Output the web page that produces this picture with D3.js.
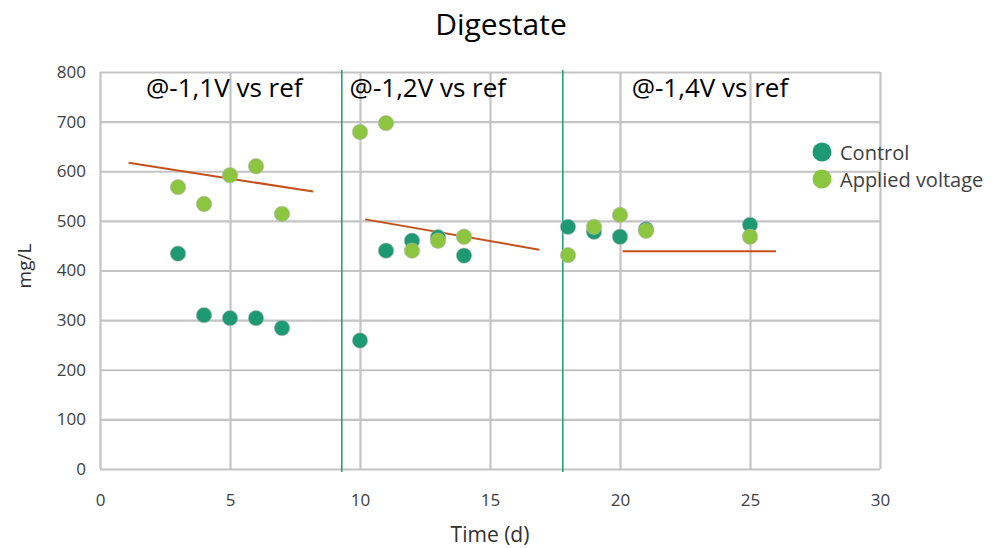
<!DOCTYPE html>
<meta charset="utf-8">
<style>
body {
	margin: 0;
	background-color: white;
}
text {
	font-family: "Open Sans", sans-serif;
}
.grid line {
	stroke: #c4c4c4;
	stroke-width: 2.2px;
}
.grid path {
	display: none;
}
.tick text {
	fill: #404040;
	font-size: 17px;
}
</style>
<html>
	<head>
		<title>Digestate</title>
		<script src="https://cdn.jsdelivr.net/npm/d3@7"></script>
	</head>
	<body>
		<svg id="svgchart"></svg>
<script>
'use strict'

// data
const controlDays   = [3, 4, 5, 6, 7, 10, 11, 12, 13, 14, 18, 19, 20, 21, 25]
const controlValues = [434, 310, 304, 304, 284, 259, 440, 460, 467, 430, 488, 478, 468, 483, 492]
const appliedDays   = [3, 4, 5, 6, 7, 10, 11, 12, 13, 14, 18, 19, 20, 21, 25]
const appliedValues = [568, 534, 592, 610, 514, 679, 697, 440, 460, 468, 431, 488, 512, 480, 468]

// trend segments per phase: [x1, y1, x2, y2]
const trendX1 = [1.1, 10.2, 20.1]
const trendY1 = [617, 503, 439]
const trendX2 = [8.2, 16.9, 26.0]
const trendY2 = [559, 442, 439]

// phase separators and labels
const phaseLines  = [9.3, 17.8]
const phaseLabels = ["@-1,1V vs ref", "@-1,2V vs ref", "@-1,4V vs ref"]
const phaseLabelX = [1.77, 9.6, 20.45]

const xTicks = [0, 5, 10, 15, 20, 25, 30]
const yTicks = [0, 100, 200, 300, 400, 500, 600, 700, 800]

const chartWidth  = 995,
      chartHeight = 548,
      plotLeft = 100, plotRight = 880, plotTop = 72, plotBottom = 469

const svg = d3.select("#svgchart")
	.attr("width", chartWidth)
	.attr("height", chartHeight)

const x = d3.scaleLinear().domain([0, 30]).range([plotLeft, plotRight])
const y = d3.scaleLinear().domain([0, 800]).range([plotBottom, plotTop])

// gridlines
svg.append("g")
	.attr("class", "grid")
	.attr("transform", "translate(0," + plotBottom + ")")
	.call(d3.axisBottom(x).tickValues(xTicks).tickSize(-(plotBottom - plotTop)).tickFormat(""))
svg.append("g")
	.attr("class", "grid")
	.attr("transform", "translate(" + plotLeft + ",0)")
	.call(d3.axisLeft(y).tickValues(yTicks).tickSize(-(plotRight - plotLeft)).tickFormat(""))

// tick labels
svg.append("g")
	.attr("transform", "translate(0," + (plotBottom + 22) + ")")
	.call(d3.axisBottom(x).tickValues(xTicks).tickSize(0))
	.call(g => g.select(".domain").remove())
svg.append("g")
	.attr("transform", "translate(" + (plotLeft - 11) + ",0)")
	.call(d3.axisLeft(y).tickValues(yTicks).tickSize(0))
	.call(g => g.select(".domain").remove())

// phase separators
svg.append("g")
	.selectAll("line")
	.data(phaseLines)
	.enter().append("line")
	.attr("x1", d => x(d)).attr("x2", d => x(d))
	.attr("y1", y(800) - 2).attr("y2", plotBottom + 3)
	.attr("stroke", "#1f9b74")
	.attr("stroke-width", 1.5)

svg.append("g")
	.selectAll("text")
	.data(phaseLabels)
	.enter().append("text")
	.attr("x", (d, i) => x(phaseLabelX[i]))
	.attr("y", y(800) + 25)
	.style("font-size", "26px")
	.attr("fill", "#000")
	.text(d => d)

// trend lines
svg.append("g")
	.selectAll("line")
	.data(trendX1)
	.enter().append("line")
	.attr("x1", d => x(d))
	.attr("y1", (d, i) => y(trendY1[i]))
	.attr("x2", (d, i) => x(trendX2[i]))
	.attr("y2", (d, i) => y(trendY2[i]))
	.attr("stroke", "#c4511c")
	.attr("stroke-width", 2)

// points
const dotStroke = "#b5b5b5"
svg.append("g")
	.selectAll("circle")
	.data(controlDays)
	.enter().append("circle")
	.attr("cx", d => x(d))
	.attr("cy", (d, i) => y(controlValues[i]))
	.attr("r", 7.7)
	.attr("fill", "#1e9a72")
	.attr("stroke", dotStroke)
	.attr("stroke-width", 0.6)
svg.append("g")
	.selectAll("circle")
	.data(appliedDays)
	.enter().append("circle")
	.attr("cx", d => x(d))
	.attr("cy", (d, i) => y(appliedValues[i]))
	.attr("r", 7.7)
	.attr("fill", "#8cc540")
	.attr("stroke", dotStroke)
	.attr("stroke-width", 0.6)

// legend
const legend = svg.append("g").attr("transform", "translate(822,152)")
legend.append("circle").attr("cy", 0).attr("r", 9.5).attr("fill", "#1e9a72")
legend.append("circle").attr("cy", 27).attr("r", 9.5).attr("fill", "#8cc540")
legend.append("text").attr("x", 18).attr("y", 8).style("font-size", "20px").attr("fill", "#404040").text("Control")
legend.append("text").attr("x", 18).attr("y", 35).style("font-size", "20px").attr("fill", "#404040").text("Applied voltage")

// titles
svg.append("text")
	.attr("x", 501).attr("y", 35)
	.attr("text-anchor", "middle")
	.style("font-size", "30px")
	.attr("fill", "#000")
	.text("Digestate")
svg.append("text")
	.attr("transform", "translate(31,266) rotate(-90)")
	.attr("text-anchor", "middle")
	.style("font-size", "19px")
	.attr("fill", "#333")
	.text("mg/L")
svg.append("text")
	.attr("x", 490).attr("y", 542)
	.attr("text-anchor", "middle")
	.style("font-size", "21px")
	.attr("fill", "#333")
	.text("Time (d)")
</script>
	</body>
</html>
